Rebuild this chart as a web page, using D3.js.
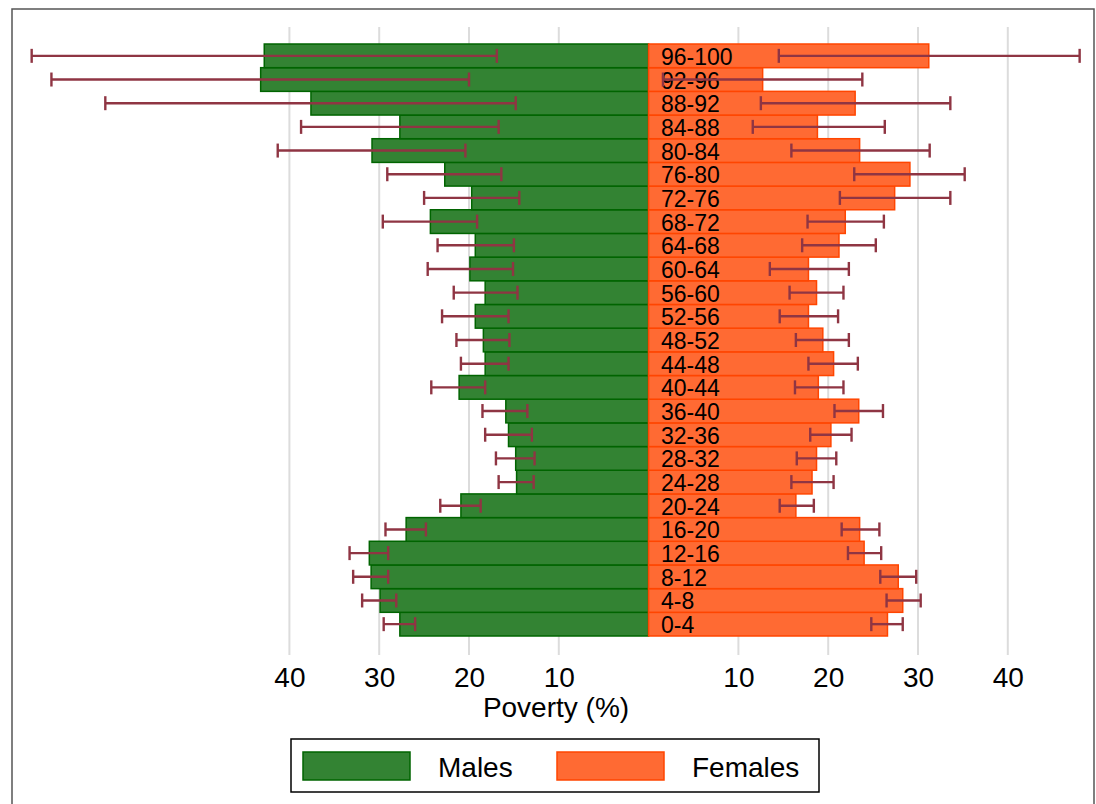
<!DOCTYPE html>
<html>
<head>
<meta charset="utf-8">
<script src="https://cdn.jsdelivr.net/npm/d3@7"></script>
<style>
  html, body { margin: 0; padding: 0; background: #fff; }
  svg { display: block; font-family: "Liberation Sans", Arial, sans-serif; }
</style>
</head>
<body>
<svg id="chart" width="1096" height="804"></svg>
<script>
// ---- Data (age groups ascending, values in %) ----
const ageGroups = ["0-4","4-8","8-12","12-16","16-20","20-24","24-28","28-32","32-36","36-40","40-44","44-48","48-52","52-56","56-60","60-64","64-68","68-72","72-76","76-80","80-84","84-88","88-92","92-96","96-100"];
const malesPct = [27.7,29.9,30.9,31.1,27.0,20.9,14.7,14.8,15.6,15.9,21.1,18.2,18.4,19.3,18.2,19.9,19.3,24.3,19.7,22.7,30.8,27.7,37.6,43.2,42.8];
const malesLo  = [26.0,28.1,29.0,29.0,24.8,18.7,12.8,12.7,13.0,13.5,18.2,15.6,15.5,15.6,14.6,15.1,15.0,19.1,14.4,16.4,20.4,16.7,14.8,20.0,16.9];
const malesHi  = [29.5,31.9,32.9,33.3,29.3,23.2,16.7,17.0,18.2,18.5,24.2,20.9,21.4,23.0,21.7,24.6,23.5,29.6,25.0,29.1,41.3,38.7,60.5,66.5,68.7];
const femalesPct = [26.6,28.3,27.8,24.0,23.5,16.4,18.2,18.7,20.3,23.4,18.9,20.6,19.4,17.8,18.7,17.8,21.2,21.9,27.4,29.1,23.5,18.8,23.0,12.7,31.2];
const femalesLo  = [24.8,26.5,25.8,22.2,21.5,14.6,15.9,16.5,18.0,20.7,16.3,17.8,16.4,14.6,15.7,13.5,17.1,17.7,21.3,22.9,15.9,11.6,12.5,1.6,14.5];
const femalesHi  = [28.3,30.3,29.8,25.9,25.7,18.4,20.6,20.9,22.6,26.1,21.7,23.3,22.3,21.1,21.7,22.3,25.3,26.2,33.6,35.2,31.3,26.3,33.6,23.8,48.0];
const tickValues = [10, 20, 30, 40];
const xTitle = "Poverty (%)";
const legendLabels = ["Males", "Females"];

// ---- Styles ----
const maleFill = "rgb(51,131,51)", maleStroke = "rgb(0,100,0)";
const femFill = "rgb(255,106,51)", femStroke = "rgb(255,69,0)";
const ciColor = "#8f3543";

const svg = d3.select("#chart");
const rows = ageGroups.map((g, i) => ({
  g, m: malesPct[i], mLo: malesLo[i], mHi: malesHi[i],
  f: femalesPct[i], fLo: femalesLo[i], fHi: femalesHi[i]
}));

const center = 648.6;
const xL = d3.scaleLinear().domain([0, 40]).range([center, center - 359.2]);
const xR = d3.scaleLinear().domain([0, 40]).range([center, center + 359.2]);
const y = d3.scaleBand().domain(ageGroups.slice().reverse()).range([44, 636]).padding(0);

// frame
svg.append("path")
  .attr("d", "M12,812 L12,9 L1094,9 L1094,812")
  .attr("fill", "none").attr("stroke", "#555").attr("stroke-width", 1.5);

// gridlines
const grid = svg.append("g");
tickValues.forEach(t => {
  [xL(t), xR(t)].forEach(x => {
    grid.append("line").attr("x1", x).attr("x2", x).attr("y1", 27).attr("y2", 655)
      .attr("stroke", "#dcdcdc").attr("stroke-width", 2);
  });
});

// bars
svg.append("g").selectAll("rect").data(rows).join("rect")
  .attr("x", d => xL(d.m)).attr("width", d => center - xL(d.m))
  .attr("y", d => y(d.g)).attr("height", y.bandwidth())
  .attr("fill", maleFill).attr("stroke", maleStroke).attr("stroke-width", 1.5);

svg.append("g").selectAll("rect").data(rows).join("rect")
  .attr("x", center).attr("width", d => xR(d.f) - center)
  .attr("y", d => y(d.g)).attr("height", y.bandwidth())
  .attr("fill", femFill).attr("stroke", femStroke).attr("stroke-width", 1.5);

// age labels
svg.append("g").selectAll("text").data(rows).join("text")
  .attr("x", 661).attr("y", d => y(d.g) + y.bandwidth() / 2 + 9)
  .attr("font-size", 23).attr("fill", "#000").text(d => d.g);

// CI error bars
const cap = 7;
function ci(g, x1f, x2f) {
  g.selectAll("g").data(rows).join("g").each(function(d) {
    const s = d3.select(this);
    const cy = y(d.g) + y.bandwidth() / 2;
    const a = x1f(d), b = x2f(d);
    s.append("line").attr("x1", a).attr("x2", b).attr("y1", cy).attr("y2", cy);
    s.append("line").attr("x1", a).attr("x2", a).attr("y1", cy - cap).attr("y2", cy + cap);
    s.append("line").attr("x1", b).attr("x2", b).attr("y1", cy - cap).attr("y2", cy + cap);
  });
  g.selectAll("line").attr("stroke", ciColor).attr("stroke-width", 2.4);
}
ci(svg.append("g"), d => xL(d.mHi), d => xL(d.mLo));
ci(svg.append("g"), d => xR(d.fLo), d => xR(d.fHi));

// axes (tick labels only)
const axL = d3.axisBottom(xL).tickValues(tickValues).tickSize(0).tickPadding(0);
const axR = d3.axisBottom(xR).tickValues(tickValues).tickSize(0).tickPadding(0);
[axL, axR].forEach(ax => {
  const g = svg.append("g").attr("transform", "translate(0,665)").call(ax);
  g.select(".domain").remove();
  g.selectAll("text").attr("font-size", 28).attr("fill", "#000")
    .attr("font-family", '"Liberation Sans", Arial, sans-serif')
    .attr("dy", "0.77em");
});

svg.append("text").attr("x", 556).attr("y", 716.5).attr("text-anchor", "middle")
  .attr("font-size", 28).attr("fill", "#000").text(xTitle);

// legend
const lg = svg.append("g");
lg.append("rect").attr("x", 291).attr("y", 739).attr("width", 528).attr("height", 53)
  .attr("fill", "#fff").attr("stroke", "#000").attr("stroke-width", 1.5);
const legItems = [
  { label: legendLabels[0], fill: maleFill, stroke: maleStroke, sx: 303, tx: 438 },
  { label: legendLabels[1], fill: femFill, stroke: femStroke, sx: 557, tx: 692 }
];
legItems.forEach(it => {
  lg.append("rect").attr("x", it.sx).attr("y", 752).attr("width", 107).attr("height", 28)
    .attr("fill", it.fill).attr("stroke", it.stroke).attr("stroke-width", 1.5);
  lg.append("text").attr("x", it.tx).attr("y", 776.5).attr("font-size", 28)
    .attr("fill", "#000").text(it.label);
});
</script>
</body>
</html>
